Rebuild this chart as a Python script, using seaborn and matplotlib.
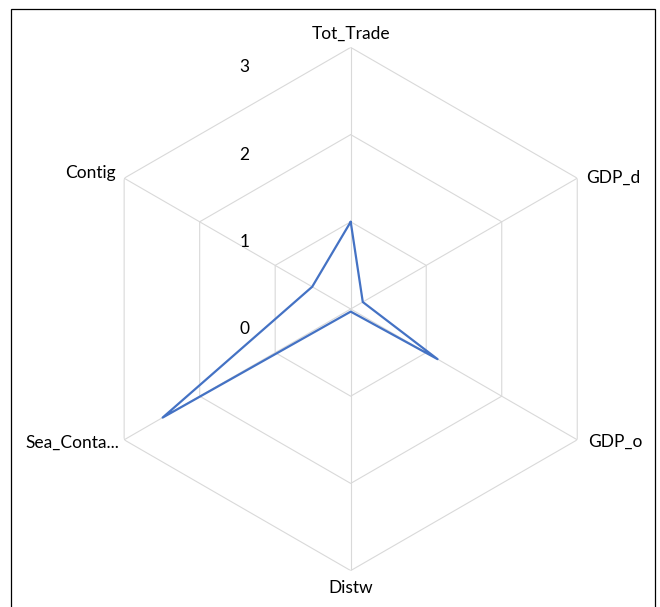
import numpy as np
import pandas as pd
import matplotlib
matplotlib.use("Agg")
import matplotlib.pyplot as plt
import matplotlib.patches as mpatches
from matplotlib.transforms import offset_copy
import seaborn as sns

# datos
categorias = ["Tot_Trade", "GDP_d", "GDP_o", "Distw", "Sea_Conta...", "Contig"]
valores = [1.0, 0.16, 1.15, 0.03, 2.49, 0.51]
anillos = [1, 2, 3]
etiquetas_eje = ["0", "1", "2", "3"]

sns.set_theme(style="white")
plt.rcParams["font.family"] = ["Lato", "DejaVu Sans"]

n = len(categorias)
angulos = np.linspace(0, 2 * np.pi, n, endpoint=False)

df = pd.DataFrame({"theta": np.append(angulos, 2 * np.pi),
                   "r": valores + valores[:1]})

fig = plt.figure(figsize=(6.6, 6.07), dpi=100)
W, H = 660, 607
cx, cy, R = 350.7, 309.0, 261.6
ax = fig.add_axes([(cx - R) / W, (H - cy - R) / H, 2 * R / W, 2 * R / H],
                  projection="polar")
ax.set_theta_offset(np.pi / 2)
ax.set_theta_direction(-1)
ax.set_ylim(0, 3)
ax.grid(False)
ax.spines["polar"].set_visible(False)
ax.set_xticks([])
ax.set_yticks([])
ax.patch.set_alpha(0)

# rejilla hexagonal
gris = "#d9d9d9"
t_cerrado = np.append(angulos, angulos[0])
for a in anillos:
    ax.plot(t_cerrado, [a] * (n + 1), color=gris, lw=0.8, zorder=1)
for t in angulos:
    ax.plot([t, t], [0, anillos[-1]], color=gris, lw=0.8, zorder=1)

sns.lineplot(data=df, x="theta", y="r", sort=False, estimator=None,
             color="#4472C4", lw=1.6, ax=ax, zorder=3)
ax.set_xlabel("")
ax.set_ylabel("")

# etiquetas del eje radial
tr = offset_copy(ax.transData, fig=fig, x=-106, y=-20, units="dots")
for i, txt in enumerate(etiquetas_eje):
    ax.text(0, i, txt, transform=tr, ha="center", va="center",
            fontsize=12.5, color="#000000")

# etiquetas de categorias
desplaz = [(0, 14, "center"), (9, 0, "left"), (11, -2, "left"),
           (0, -17, "center"), (-5, -3, "right"), (-8, 5, "right")]
for t, cat, (dx, dy, ha) in zip(angulos, categorias, desplaz):
    trc = offset_copy(ax.transData, fig=fig, x=dx, y=dy, units="dots")
    ax.text(t, anillos[-1], cat, transform=trc, ha=ha, va="center",
            fontsize=12.5, color="#000000")

# marco
fig.patches.append(mpatches.Rectangle((11 / W, -0.02), 644 / W, (H - 8.5) / H + 0.02,
                                      transform=fig.transFigure, fill=False,
                                      edgecolor="black", lw=0.9))

fig.savefig("out.png", dpi=100)
